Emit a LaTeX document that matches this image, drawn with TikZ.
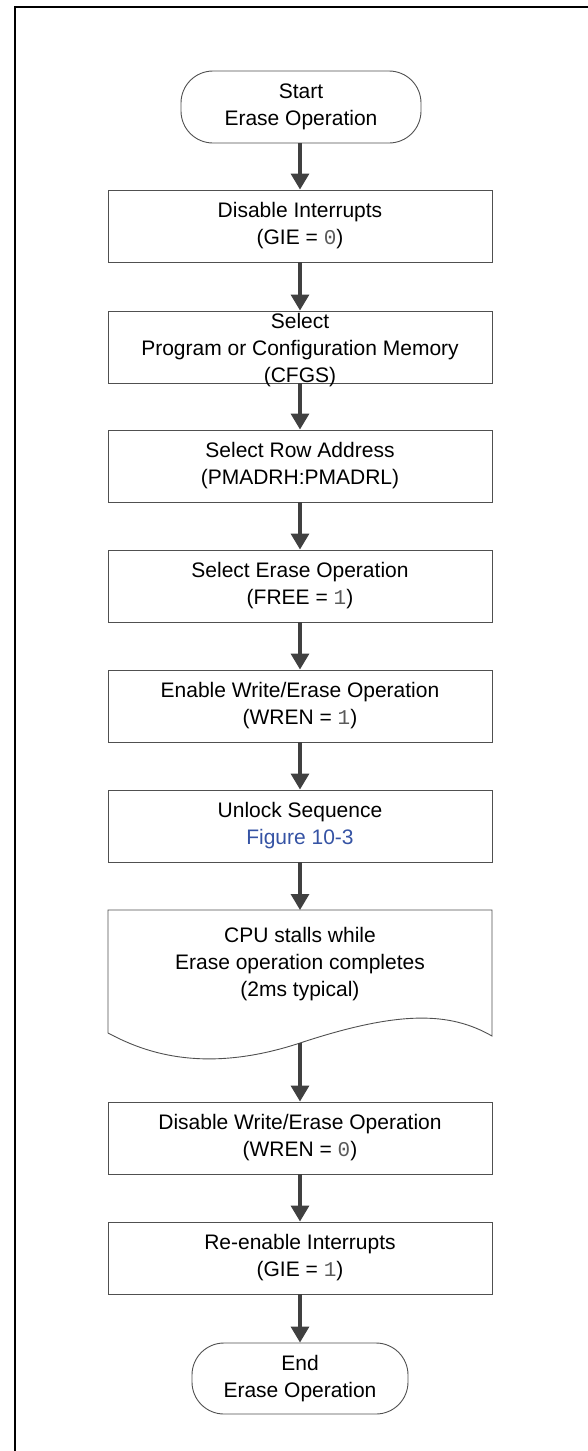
\documentclass[tikz,border=0pt]{standalone}
\usepackage{fontspec}
\setmainfont{Liberation Sans}
\newfontfamily\monofont{Liberation Mono}
\usetikzlibrary{arrows.meta}
\definecolor{boxline}{HTML}{505050}
\definecolor{arrowc}{HTML}{404040}
\definecolor{linkblue}{HTML}{3553A4}
\definecolor{digitgray}{HTML}{5A5A5A}
\newcommand{\dg}[1]{{\monofont\color{digitgray}#1}}
\begin{document}
\begin{tikzpicture}[x=1pt,y=-1pt,
  every node/.style={font=\fontsize{21}{27}\selectfont, align=center, inner sep=0pt},
  procbox/.style={draw=boxline, line width=0.9pt, minimum width=384pt, minimum height=72pt},
  termbox/.style={draw=boxline, line width=0.9pt, rounded corners=32pt, minimum height=72pt},
  flow/.style={draw=arrowc, line width=3.3pt, -{Triangle[width=18pt,length=16pt]}}]
\useasboundingbox (0,0) rectangle (587,1451);
% frame
\draw[line width=2.2pt, line cap=rect] (15,1451) -- (15,7) -- (587,7);

\node[termbox, minimum width=240pt] (start) at (301,107) {Start\\Erase Operation};
\node[procbox] (dis) at (300,226) {Disable Interrupts\\(GIE = \dg{0})};
\node[procbox] (sel) at (300,347) {};
\node (selt) at (300,350) {Select\\Program or Configuration Memory\\(CFGS)};
\node[procbox] (row) at (300,466) {Select Row Address\\(PMADRH:PMADRL)};
\node[procbox] (era) at (300,586) {Select Erase Operation\\(FREE = \dg{1})};
\node[procbox] (ena) at (300,706) {Enable Write/Erase Operation\\(WREN = \dg{1})};
\node[procbox] (unl) at (300,826) {Unlock Sequence\\{\color{linkblue}Figure 10-3}};

% document shape
\coordinate (cputop) at (300,910);
\coordinate (cpubot) at (300,1043);
\draw[boxline, line width=0.9pt] (108,1033) -- (108,910) -- (492,910) -- (492,1036)
  .. controls (450,1012) and (400,1010) .. (cpubot)
  .. controls (200,1076) and (140,1050) .. (108,1033);
\node (cpu) at (300,964) {CPU stalls while\\Erase operation completes\\(2ms typical)};

\node[procbox] (dw) at (300,1138) {Disable Write/Erase Operation\\(WREN = \dg{0})};
\node[procbox] (ren) at (300,1258) {Re-enable Interrupts\\(GIE = \dg{1})};
\node[termbox, minimum width=216pt, minimum height=71pt] (endn) at (300,1378.5) {End\\Erase Operation};

\draw[flow] (start.south -| dis.north) -- (dis.north);
\draw[flow] (dis.south) -- (sel.north);
\draw[flow] (sel.south) -- (row.north);
\draw[flow] (row.south) -- (era.north);
\draw[flow] (era.south) -- (ena.north);
\draw[flow] (ena.south) -- (unl.north);
\draw[flow] (unl.south) -- (cputop);
\draw[flow] (cpubot) -- (dw.north);
\draw[flow] (dw.south) -- (ren.north);
\draw[flow] (ren.south) -- (endn.north);
\end{tikzpicture}
\end{document}
